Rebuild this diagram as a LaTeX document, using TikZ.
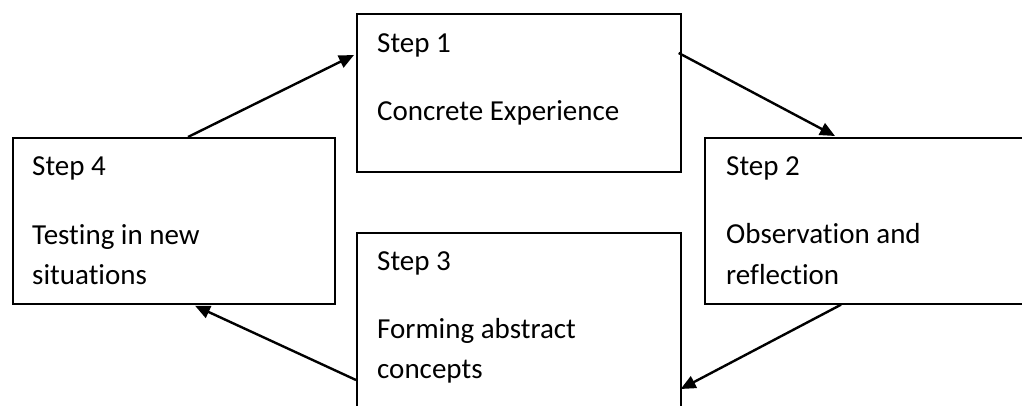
\documentclass[tikz,border=0pt]{standalone}
\usepackage{fontspec}
\setmainfont{Carlito}[Ligatures=NoCommon]
\usetikzlibrary{arrows.meta}
\begin{document}
\begin{tikzpicture}[x=1pt,y=-1pt,
  stepbox/.style={draw=black,line width=1.7pt,rectangle,inner sep=0pt,anchor=north west},
  steptext/.style={anchor=base west,inner sep=0pt,font=\fontsize{29}{35}\selectfont},
  flow/.style={line width=2.4pt,-{Triangle[length=15pt,width=13pt]}}]
  % canvas; the boxes on the right and bottom run past its edge
  \fill[white] (0,0) rectangle (1022,406);
  \clip (0,0) rectangle (1022,406);

  % the four step boxes
  \node[stepbox,minimum width=324pt,minimum height=158pt] (s1) at (356,13) {};
  \node[stepbox,minimum width=326pt,minimum height=166pt] (s2) at (704,137) {};
  \node[stepbox,minimum width=324pt,minimum height=200pt] (s3) at (356,232) {};
  \node[stepbox,minimum width=322pt,minimum height=166pt] (s4) at (12,137) {};

  % box texts
  \node[steptext] (t1a) at (377,53) {Step 1};
  \node[steptext] (t1b) at (377,121) {Concrete Experience};

  \node[steptext] (t2a) at (726,176) {Step 2};
  \node[steptext] (t2b) at (726,243) {Observation and};
  \node[steptext] (t2c) at (726,284) {reflection};

  \node[steptext] (t3a) at (377,270) {Step 3};
  \node[steptext] (t3b) at (377,338) {Forming abstract};
  \node[steptext] (t3c) at (377,378) {concepts};

  \node[steptext] (t4a) at (32,176) {Step 4};
  \node[steptext] (t4b) at (32,244) {Testing in new};
  \node[steptext] (t4c) at (32,284) {situations};

  % cycle arrows
  \draw[flow] ([xshift=176pt]s4.north west) -- ([xshift=-2pt,yshift=-42pt]s1.north west);
  \draw[flow] ([xshift=-3pt,yshift=-40pt]s1.north east) -- ([xshift=131pt,yshift=1pt]s2.north west);
  \draw[flow] ([xshift=137pt]s2.south west) -- ([xshift=-1pt,yshift=-157pt]s3.north east);
  \draw[flow] ([yshift=-148pt]s3.north west) -- ([xshift=183pt,yshift=-1pt]s4.south west);
\end{tikzpicture}
\end{document}
